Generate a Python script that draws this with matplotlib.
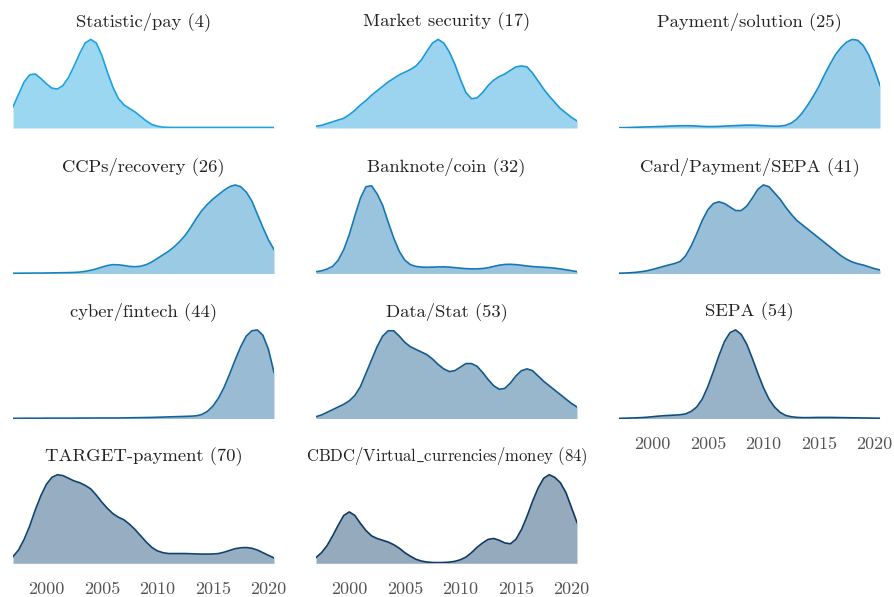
import numpy as np
import matplotlib
matplotlib.use("Agg")
import matplotlib.pyplot as plt

plt.rcParams["font.family"] = ["cmr10", "DejaVu Serif"]
plt.rcParams["mathtext.fontset"] = "cm"
plt.rcParams["axes.unicode_minus"] = False

# sample positions (years) and relative density
years = np.arange(1997.0, 2020.51, 0.5)

titles = ["Statistic/pay (4)", "Market security (17)", "Payment/solution (25)",
          "CCPs/recovery (26)", "Banknote/coin (32)", "Card/Payment/SEPA (41)",
          "cyber/fintech (44)", "Data/Stat (53)", "SEPA (54)",
          "TARGET-payment (70)", r"CBDC/Virtual$\_$currencies/money (84)"]

statistic_pay = [0.24, 0.38, 0.52, 0.60, 0.61, 0.56, 0.50, 0.45, 0.44, 0.48, 0.57, 0.70,
                 0.84, 0.96, 1.00, 0.96, 0.82, 0.63, 0.46, 0.33, 0.26, 0.22, 0.18, 0.13,
                 0.08, 0.04, 0.02, 0.01, 0.007, 0.006, 0.006, 0.006, 0.006, 0.006, 0.006, 0.006,
                 0.006, 0.006, 0.006, 0.006, 0.006, 0.006, 0.006, 0.006, 0.006, 0.006, 0.006, 0.006]
market_security = [0.02, 0.03, 0.05, 0.07, 0.09, 0.11, 0.15, 0.20, 0.26, 0.31, 0.37, 0.42,
                   0.47, 0.52, 0.56, 0.60, 0.63, 0.66, 0.70, 0.77, 0.87, 0.96, 1.00, 0.96,
                   0.86, 0.72, 0.55, 0.40, 0.33, 0.34, 0.40, 0.48, 0.54, 0.58, 0.61, 0.65,
                   0.69, 0.70, 0.69, 0.62, 0.53, 0.44, 0.36, 0.29, 0.22, 0.17, 0.12, 0.08]
payment_solution = [0.003, 0.004, 0.006, 0.008, 0.010, 0.012, 0.014, 0.016, 0.018, 0.021, 0.023, 0.025,
                    0.026, 0.025, 0.022, 0.018, 0.016, 0.016, 0.018, 0.021, 0.024, 0.027, 0.030, 0.032,
                    0.032, 0.030, 0.026, 0.022, 0.020, 0.021, 0.030, 0.055, 0.10, 0.17, 0.26, 0.36,
                    0.47, 0.60, 0.72, 0.83, 0.91, 0.97, 1.00, 0.99, 0.93, 0.82, 0.66, 0.48]
ccps_recovery = [0.003, 0.003, 0.004, 0.004, 0.005, 0.005, 0.006, 0.007, 0.008, 0.009, 0.010, 0.012,
                 0.016, 0.024, 0.036, 0.052, 0.072, 0.090, 0.100, 0.098, 0.090, 0.080, 0.076, 0.082,
                 0.10, 0.13, 0.17, 0.21, 0.25, 0.30, 0.36, 0.43, 0.52, 0.62, 0.71, 0.78,
                 0.84, 0.89, 0.94, 0.98, 1.00, 0.98, 0.92, 0.82, 0.67, 0.52, 0.38, 0.27]
banknote_coin = [0.02, 0.03, 0.05, 0.08, 0.15, 0.27, 0.44, 0.65, 0.85, 0.98, 0.99, 0.90,
                 0.77, 0.58, 0.40, 0.25, 0.15, 0.10, 0.08, 0.072, 0.070, 0.072, 0.074, 0.075,
                 0.072, 0.066, 0.060, 0.055, 0.052, 0.052, 0.056, 0.065, 0.080, 0.094, 0.102, 0.104,
                 0.100, 0.093, 0.085, 0.078, 0.074, 0.070, 0.066, 0.060, 0.052, 0.042, 0.032, 0.022]
card_payment_sepa = [0.003, 0.005, 0.008, 0.013, 0.020, 0.030, 0.045, 0.062, 0.080, 0.097, 0.112, 0.135,
                     0.20, 0.31, 0.45, 0.60, 0.72, 0.79, 0.81, 0.79, 0.75, 0.71, 0.71, 0.76,
                     0.85, 0.95, 1.00, 0.98, 0.91, 0.84, 0.75, 0.67, 0.60, 0.55, 0.50, 0.45,
                     0.40, 0.35, 0.30, 0.25, 0.20, 0.16, 0.13, 0.11, 0.095, 0.075, 0.055, 0.04]
cyber_fintech = [0.002, 0.002, 0.003, 0.003, 0.003, 0.003, 0.004, 0.004, 0.004, 0.004, 0.004, 0.004,
                 0.005, 0.005, 0.005, 0.006, 0.006, 0.006, 0.006, 0.006, 0.007, 0.008, 0.009, 0.010,
                 0.011, 0.012, 0.014, 0.016, 0.018, 0.020, 0.022, 0.024, 0.026, 0.030, 0.045, 0.08,
                 0.14, 0.23, 0.35, 0.50, 0.66, 0.81, 0.93, 0.99, 1.00, 0.94, 0.78, 0.52]
data_stat = [0.02, 0.04, 0.07, 0.10, 0.13, 0.16, 0.20, 0.26, 0.36, 0.51, 0.66, 0.81,
             0.93, 0.99, 0.99, 0.93, 0.86, 0.81, 0.78, 0.75, 0.72, 0.67, 0.61, 0.56,
             0.53, 0.54, 0.58, 0.62, 0.62, 0.59, 0.52, 0.44, 0.37, 0.33, 0.34, 0.40,
             0.48, 0.54, 0.56, 0.54, 0.48, 0.42, 0.37, 0.32, 0.27, 0.22, 0.17, 0.13]
sepa = [0.002, 0.003, 0.005, 0.007, 0.010, 0.014, 0.020, 0.026, 0.031, 0.035, 0.038, 0.042,
        0.052, 0.08, 0.13, 0.22, 0.36, 0.53, 0.71, 0.87, 0.97, 1.00, 0.95, 0.84,
        0.68, 0.51, 0.35, 0.22, 0.13, 0.07, 0.035, 0.02, 0.013, 0.010, 0.010, 0.011,
        0.012, 0.012, 0.012, 0.011, 0.010, 0.009, 0.008, 0.007, 0.006, 0.005, 0.004, 0.003]
target_payment = [0.075, 0.15, 0.27, 0.42, 0.60, 0.76, 0.89, 0.97, 1.00, 0.99, 0.96, 0.93,
                  0.91, 0.88, 0.84, 0.77, 0.69, 0.62, 0.56, 0.52, 0.49, 0.44, 0.38, 0.31,
                  0.24, 0.18, 0.14, 0.12, 0.11, 0.11, 0.11, 0.11, 0.108, 0.106, 0.104, 0.104,
                  0.105, 0.11, 0.125, 0.145, 0.165, 0.175, 0.178, 0.17, 0.15, 0.12, 0.09, 0.06]
cbdc_virtual = [0.065, 0.12, 0.20, 0.31, 0.43, 0.54, 0.58, 0.54, 0.45, 0.37, 0.31, 0.28,
                0.26, 0.24, 0.21, 0.17, 0.12, 0.08, 0.045, 0.025, 0.014, 0.009, 0.008, 0.009,
                0.013, 0.022, 0.040, 0.07, 0.12, 0.18, 0.23, 0.27, 0.28, 0.26, 0.23, 0.22,
                0.27, 0.38, 0.53, 0.70, 0.85, 0.96, 1.00, 0.97, 0.91, 0.80, 0.63, 0.46]

series = [statistic_pay, market_security, payment_solution, ccps_recovery, banknote_coin,
          card_payment_sepa, cyber_fintech, data_stat, sepa, target_payment, cbdc_virtual]

line_colors = ["#1ba3e3", "#1a9ad8", "#178ecc", "#1584c2", "#1577b4", "#146ca6",
               "#13639a", "#12598c", "#104e80", "#0e4472", "#0c3a66"]

W, H = 894, 597
fig = plt.figure(figsize=(W / 100, H / 100), dpi=100)

col_left = [13, 316, 619]
row_base = [128, 273.5, 418.5, 563.3]
ax_w, ax_h = 261, 93
show_ticks = {8, 9, 10}

for i, (title, vals) in enumerate(zip(titles, series)):
    r, c = divmod(i, 3)
    ax = fig.add_axes([col_left[c] / W, (H - row_base[r]) / H, ax_w / W, ax_h / H])
    col = line_colors[i]
    ax.fill_between(years, vals, 0, color=col, alpha=0.43, lw=0)
    ax.plot(years, vals, color=col, lw=1.2)
    ax.set_xlim(1997.0, 2020.5)
    ax.set_ylim(0, 1.05)
    for s in ax.spines.values():
        s.set_visible(False)
    ax.set_yticks([])
    ax.set_title(title, fontsize=12 if i == 10 else 13.4, color="#222222", pad=6.5)
    if i in show_ticks:
        ax.set_xticks([2000, 2005, 2010, 2015, 2020],
                      ["2000", "2005", "2010", "2015", "2020"])
        ax.tick_params(axis="x", length=0, pad=13, labelsize=13, labelcolor="#555555")
    else:
        ax.set_xticks([])

fig.savefig("out.png", dpi=100)
